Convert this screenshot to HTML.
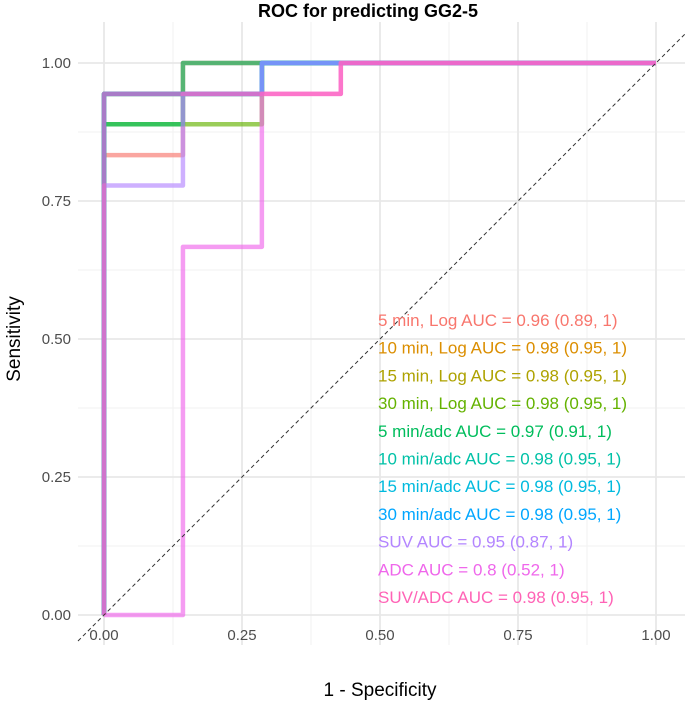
<!DOCTYPE html>
<html><head><meta charset="utf-8"><style>
body{margin:0;background:#fff;}
svg text{font-family:"Liberation Sans",Arial,sans-serif;}
</style></head><body>
<svg id="chart" width="685" height="704" xmlns="http://www.w3.org/2000/svg">
<rect width="685" height="704" fill="#fff"/>
<g id="grid"></g>
<g id="curves"></g>
<g id="labels"></g>
<text x="368" y="17" text-anchor="middle" font-size="18" font-weight="bold" fill="#000">ROC for predicting GG2-5</text>
<text x="380" y="696" text-anchor="middle" font-size="19" fill="#000">1 - Specificity</text>
<text transform="translate(20,339) rotate(-90)" text-anchor="middle" font-size="19" fill="#000">Sensitivity</text>
</svg>
<script>
const ticks=[0,0.25,0.5,0.75,1];
const tickLabels=["0.00","0.25","0.50","0.75","1.00"];
const seriesNames=["5 min, Log","10 min, Log","15 min, Log","30 min, Log","5 min/adc","10 min/adc","15 min/adc","30 min/adc","SUV","ADC","SUV/ADC"];
const aucText=["0.96 (0.89, 1)","0.98 (0.95, 1)","0.98 (0.95, 1)","0.98 (0.95, 1)","0.97 (0.91, 1)","0.98 (0.95, 1)","0.98 (0.95, 1)","0.98 (0.95, 1)","0.95 (0.87, 1)","0.8 (0.52, 1)","0.98 (0.95, 1)"];
const colors=["#F8766D","#DB8E00","#AEA200","#64B200","#00BD5C","#00C1A7","#00BADE","#00A6FF","#B385FF","#EF67EB","#FF63B6"];
const fprs=[
[0,0,0.143,0.143,1],
[0,0,0.286,0.286,1],
[0,0,0.286,0.286,1],
[0,0,0.143,0.143,0.286,0.286,1],
[0,0,0.143,0.143,1],
[0,0,0.286,0.286,1],
[0,0,0.286,0.286,1],
[0,0,0.286,0.286,1],
[0,0,0.143,0.143,0.286,0.286,1],
[0,0.143,0.143,0.286,0.286,0.429,0.429,1],
[0,0,0.429,0.429,1]];
const tprs=[
[0,0.833,0.833,1,1],
[0,0.944,0.944,1,1],
[0,0.944,0.944,1,1],
[0,0.889,0.889,0.889,0.889,1,1],
[0,0.889,0.889,1,1],
[0,0.944,0.944,1,1],
[0,0.944,0.944,1,1],
[0,0.944,0.944,1,1],
[0,0.778,0.778,0.944,0.944,1,1],
[0,0,0.667,0.667,0.944,0.944,1,1],
[0,0.944,0.944,1,1]];
const NS="http://www.w3.org/2000/svg";
const X0=104,X1=656,Y0=615,Y1=63;
const px=v=>X0+v*(X1-X0), py=v=>Y0-v*(Y0-Y1);
const PL=78,PR=685,PT=22,PB=645;
function mk(t,a,p){const e=document.createElementNS(NS,t);for(const k in a)e.setAttribute(k,a[k]);p.appendChild(e);return e;}
const g=document.getElementById('grid');
for(let i=0;i<ticks.length-1;i++){
  const m=(ticks[i]+ticks[i+1])/2;
  let l=mk('line',{x1:px(m),x2:px(m),y1:PT,y2:PB,stroke:'#f2f2f2','stroke-width':1},g);
  
  l=mk('line',{x1:PL,x2:PR,y1:py(m),y2:py(m),stroke:'#f2f2f2','stroke-width':1},g);
  
}
ticks.forEach((t,i)=>{
  let l=mk('line',{x1:px(t),x2:px(t),y1:PT,y2:PB,stroke:'#e8e8e8','stroke-width':1.8},g);
  
  l=mk('line',{x1:PL,x2:PR,y1:py(t),y2:py(t),stroke:'#e8e8e8','stroke-width':1.8},g);
  
  let tx=mk('text',{x:px(t),y:640,'text-anchor':'middle','font-size':15,fill:'#4d4d4d'},g);
  tx.textContent=tickLabels[i];
  
  tx=mk('text',{x:71,y:py(t)+5,'text-anchor':'end','font-size':15,fill:'#4d4d4d'},g);
  tx.textContent=tickLabels[i];
  
});
const c=document.getElementById('curves');
fprs.forEach((f,i)=>{
  const pts=f.map((v,j)=>px(v)+','+py(tprs[i][j])).join(' ');
  const pl=mk('polyline',{points:pts,fill:'none',stroke:colors[i],'stroke-width':4.5,'stroke-opacity':0.65,'stroke-linejoin':'round'},c);
  
  
});
const d=mk('line',{x1:PL,y1:py((PL-X0)/(X1-X0)),x2:PR,y2:py((PR-X0)/(X1-X0)),stroke:'#333','stroke-width':1,'stroke-dasharray':'4,3'},c);


const lb=document.getElementById('labels');
seriesNames.forEach((n,i)=>{
  const t=mk('text',{x:px(0.5)-2,y:326+i*27.7,'font-size':17,fill:colors[i]},lb);
  t.textContent=n+' AUC = '+aucText[i];
  
  
});
</script>
</body></html>
